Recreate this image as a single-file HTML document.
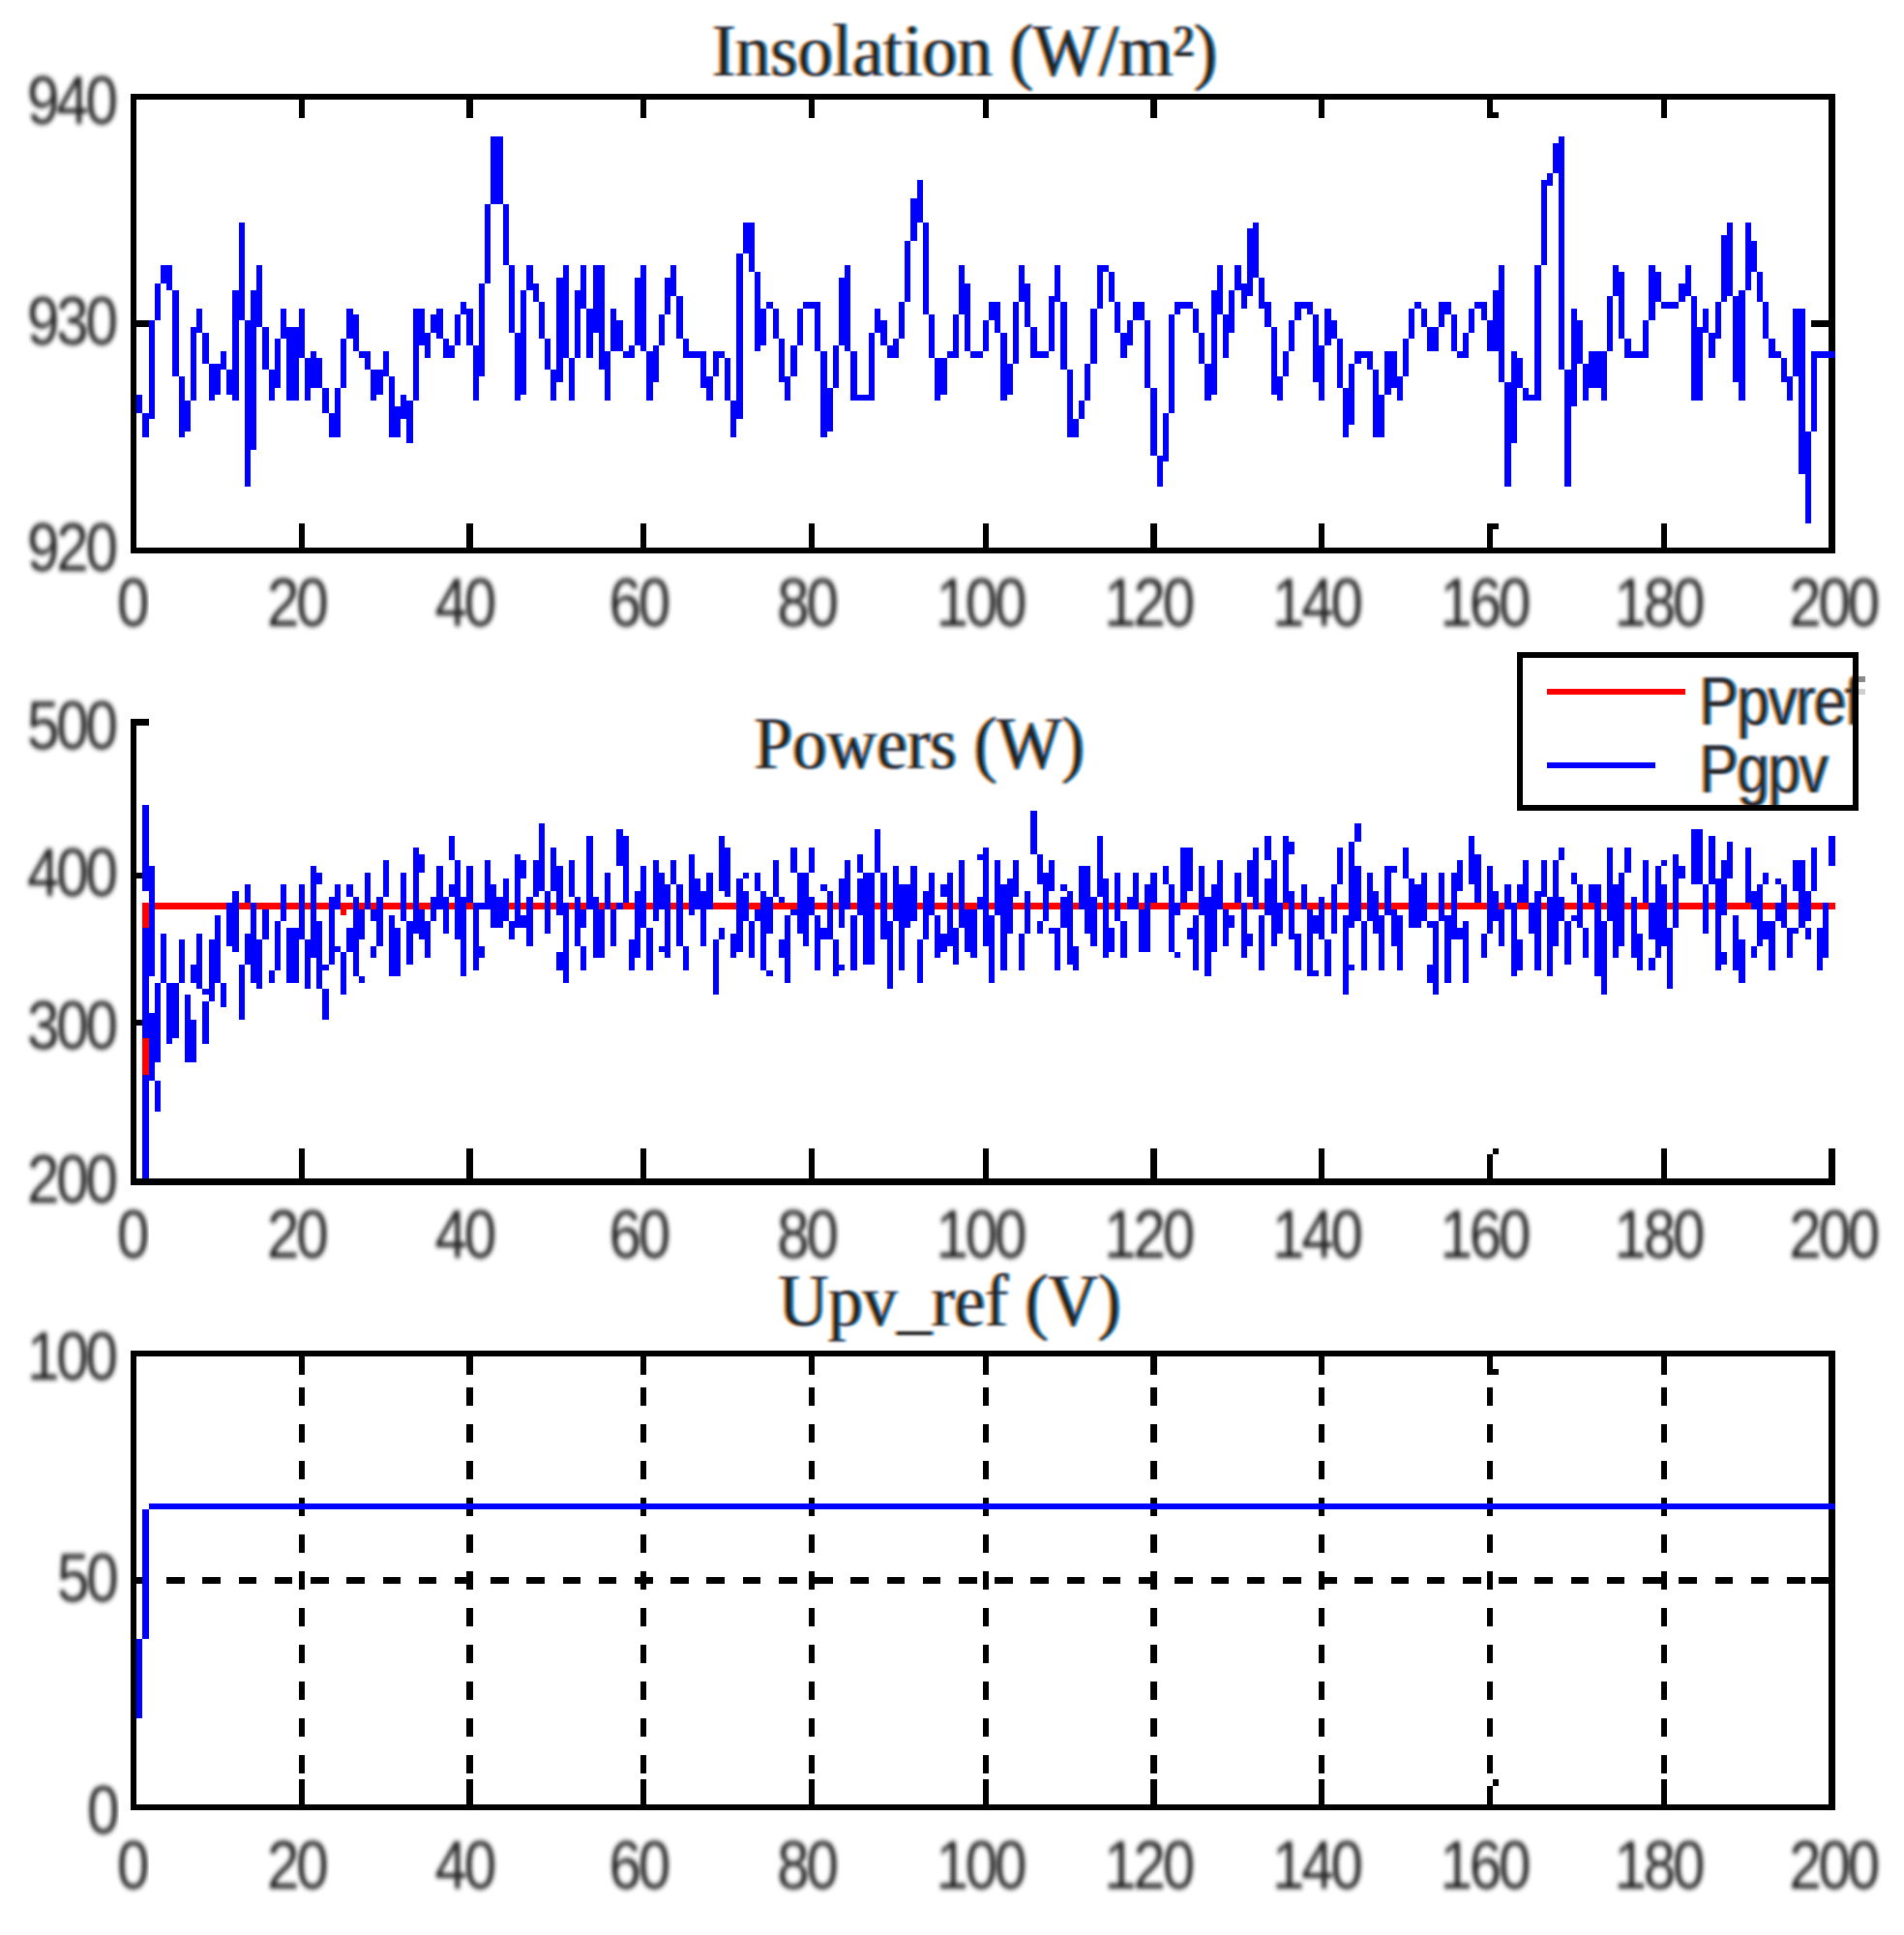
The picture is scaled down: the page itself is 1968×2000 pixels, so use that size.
<!DOCTYPE html>
<html><head><meta charset="utf-8"><title>Insolation, Powers, Upv_ref</title>
<style>html,body{margin:0;padding:0;background:#fff}svg{display:block}.t{font-family:"Liberation Sans",sans-serif;font-size:70.8px;letter-spacing:-3.8px;fill:#222}.h{font-family:"Liberation Serif",serif;font-size:77px;fill:#262626}.l{font-family:"Liberation Sans",sans-serif;font-size:70.8px;letter-spacing:-1.6px;fill:#2a2a2a}</style></head><body>
<svg width="1968" height="2000" viewBox="0 0 1968 2000" shape-rendering="crispEdges">
<rect width="1968" height="2000" fill="#fff"/>
<path fill="#ff0000" d="M147 933h1750v7h-1750zM147 933h7v178h-7zM352 940h6v6h-6z"/>
<path fill="#000" d="M135 97h1762v6h-1762zM135 566h1762v6h-1762zM135 97h6v475h-6zM1890 97h7v475h-7zM309 103h6v19h-6zM309 541h6v25h-6zM482 103h7v19h-7zM482 541h7v25h-7zM662 103h6v19h-6zM662 541h6v25h-6zM836 103h6v19h-6zM836 541h6v25h-6zM1016 103h6v19h-6zM1016 541h6v25h-6zM1189 103h7v19h-7zM1189 541h7v25h-7zM1363 103h6v19h-6zM1363 541h6v25h-6zM1537 103h6v19h-6zM1537 541h6v25h-6zM1717 103h6v19h-6zM1717 541h6v25h-6zM1543 116h6v6h-6zM1543 541h6v6h-6zM141 331h13v7h-13zM1872 331h18v7h-18zM135 743h6v482h-6zM135 1218h1762v7h-1762zM141 743h13v7h-13zM141 902h13v6h-13zM141 1054h13v6h-13zM309 1187h6v31h-6zM482 1187h7v31h-7zM662 1187h6v31h-6zM836 1187h6v31h-6zM1016 1187h6v31h-6zM1189 1187h7v31h-7zM1363 1187h6v31h-6zM1537 1193h6v25h-6zM1717 1187h6v31h-6zM1890 1187h7v31h-7zM1543 1187h6v6h-6zM135 1396h1762v6h-1762zM135 1865h1762v6h-1762zM135 1396h6v475h-6zM1890 1396h7v475h-7zM309 1402h6v19h-6zM309 1839h6v26h-6zM309 1434h6v19h-6zM309 1472h6v19h-6zM309 1510h6v19h-6zM309 1548h6v19h-6zM309 1586h6v19h-6zM309 1624h6v19h-6zM309 1662h6v19h-6zM309 1700h6v19h-6zM309 1738h6v19h-6zM309 1776h6v19h-6zM309 1814h6v19h-6zM309 1852h6v13h-6zM482 1402h7v19h-7zM482 1839h7v26h-7zM482 1434h7v19h-7zM482 1472h7v19h-7zM482 1510h7v19h-7zM482 1548h7v19h-7zM482 1586h7v19h-7zM482 1624h7v19h-7zM482 1662h7v19h-7zM482 1700h7v19h-7zM482 1738h7v19h-7zM482 1776h7v19h-7zM482 1814h7v19h-7zM482 1852h7v13h-7zM662 1402h6v19h-6zM662 1839h6v26h-6zM662 1434h6v19h-6zM662 1472h6v19h-6zM662 1510h6v19h-6zM662 1548h6v19h-6zM662 1586h6v19h-6zM662 1624h6v19h-6zM662 1662h6v19h-6zM662 1700h6v19h-6zM662 1738h6v19h-6zM662 1776h6v19h-6zM662 1814h6v19h-6zM662 1852h6v13h-6zM836 1402h6v19h-6zM836 1839h6v26h-6zM836 1434h6v19h-6zM836 1472h6v19h-6zM836 1510h6v19h-6zM836 1548h6v19h-6zM836 1586h6v19h-6zM836 1624h6v19h-6zM836 1662h6v19h-6zM836 1700h6v19h-6zM836 1738h6v19h-6zM836 1776h6v19h-6zM836 1814h6v19h-6zM836 1852h6v13h-6zM1016 1402h6v19h-6zM1016 1839h6v26h-6zM1016 1434h6v19h-6zM1016 1472h6v19h-6zM1016 1510h6v19h-6zM1016 1548h6v19h-6zM1016 1586h6v19h-6zM1016 1624h6v19h-6zM1016 1662h6v19h-6zM1016 1700h6v19h-6zM1016 1738h6v19h-6zM1016 1776h6v19h-6zM1016 1814h6v19h-6zM1016 1852h6v13h-6zM1189 1402h7v19h-7zM1189 1839h7v26h-7zM1189 1434h7v19h-7zM1189 1472h7v19h-7zM1189 1510h7v19h-7zM1189 1548h7v19h-7zM1189 1586h7v19h-7zM1189 1624h7v19h-7zM1189 1662h7v19h-7zM1189 1700h7v19h-7zM1189 1738h7v19h-7zM1189 1776h7v19h-7zM1189 1814h7v19h-7zM1189 1852h7v13h-7zM1363 1402h6v19h-6zM1363 1839h6v26h-6zM1363 1434h6v19h-6zM1363 1472h6v19h-6zM1363 1510h6v19h-6zM1363 1548h6v19h-6zM1363 1586h6v19h-6zM1363 1624h6v19h-6zM1363 1662h6v19h-6zM1363 1700h6v19h-6zM1363 1738h6v19h-6zM1363 1776h6v19h-6zM1363 1814h6v19h-6zM1363 1852h6v13h-6zM1537 1402h6v19h-6zM1537 1846h6v19h-6zM1537 1434h6v19h-6zM1537 1472h6v19h-6zM1537 1510h6v19h-6zM1537 1548h6v19h-6zM1537 1586h6v19h-6zM1537 1624h6v19h-6zM1537 1662h6v19h-6zM1537 1700h6v19h-6zM1537 1738h6v19h-6zM1537 1776h6v19h-6zM1537 1814h6v19h-6zM1537 1852h6v13h-6zM1717 1402h6v19h-6zM1717 1839h6v26h-6zM1717 1434h6v19h-6zM1717 1472h6v19h-6zM1717 1510h6v19h-6zM1717 1548h6v19h-6zM1717 1586h6v19h-6zM1717 1624h6v19h-6zM1717 1662h6v19h-6zM1717 1700h6v19h-6zM1717 1738h6v19h-6zM1717 1776h6v19h-6zM1717 1814h6v19h-6zM1717 1852h6v13h-6zM1543 1415h6v6h-6zM1543 1839h6v7h-6zM141 1630h13v7h-13zM1872 1630h18v7h-18zM172 1630h19v7h-19zM209 1630h19v7h-19zM247 1630h18v7h-18zM284 1630h18v7h-18zM321 1630h19v7h-19zM358 1630h19v7h-19zM396 1630h18v7h-18zM433 1630h18v7h-18zM470 1630h19v7h-19zM507 1630h19v7h-19zM544 1630h19v7h-19zM582 1630h18v7h-18zM619 1630h18v7h-18zM656 1630h19v7h-19zM693 1630h19v7h-19zM730 1630h19v7h-19zM768 1630h18v7h-18zM805 1630h19v7h-19zM842 1630h19v7h-19zM879 1630h19v7h-19zM917 1630h18v7h-18zM954 1630h18v7h-18zM991 1630h19v7h-19zM1028 1630h19v7h-19zM1065 1630h19v7h-19zM1103 1630h18v7h-18zM1140 1630h18v7h-18zM1177 1630h19v7h-19zM1214 1630h19v7h-19zM1252 1630h18v7h-18zM1289 1630h18v7h-18zM1326 1630h19v7h-19zM1363 1630h19v7h-19zM1400 1630h19v7h-19zM1438 1630h18v7h-18zM1475 1630h18v7h-18zM1512 1630h19v7h-19zM1549 1630h19v7h-19zM1586 1630h19v7h-19zM1624 1630h18v7h-18zM1661 1630h18v7h-18zM1698 1630h19v7h-19zM1735 1630h19v7h-19zM1773 1630h18v7h-18zM1810 1630h18v7h-18zM1847 1630h19v7h-19zM1884 1630h6v7h-6z"/>
<path fill="#0000ff" d="M141 408h6v19h-6zM147 427h7v25h-7zM154 331h6v102h-6zM160 293h6v38h-6zM166 274h6v19h-6zM172 274h6v26h-6zM178 300h7v89h-7zM185 389h6v63h-6zM191 414h6v32h-6zM197 338h6v76h-6zM203 319h6v25h-6zM209 344h7v32h-7zM216 376h6v38h-6zM222 376h6v32h-6zM228 363h6v19h-6zM234 382h6v26h-6zM240 300h7v114h-7zM247 230h6v101h-6zM253 331h6v172h-6zM259 300h6v165h-6zM265 274h6v64h-6zM271 338h7v44h-7zM278 382h6v32h-6zM284 350h6v51h-6zM290 319h6v31h-6zM296 338h6v76h-6zM302 338h7v76h-7zM309 319h6v51h-6zM315 370h6v44h-6zM321 363h6v38h-6zM327 370h6v31h-6zM333 401h7v26h-7zM340 427h6v25h-6zM346 401h6v51h-6zM352 350h6v51h-6zM358 319h7v31h-7zM365 325h6v38h-6zM371 363h6v7h-6zM377 363h6v19h-6zM383 382h6v32h-6zM389 382h7v26h-7zM396 363h6v26h-6zM402 389h6v63h-6zM408 420h6v32h-6zM414 408h6v25h-6zM420 414h7v44h-7zM427 319h6v95h-6zM433 319h6v38h-6zM439 344h6v26h-6zM445 325h6v19h-6zM451 319h7v31h-7zM458 350h6v20h-6zM464 357h6v13h-6zM470 325h6v32h-6zM476 312h6v13h-6zM482 319h7v38h-7zM489 357h6v57h-6zM495 293h6v96h-6zM501 211h6v82h-6zM507 141h6v70h-6zM513 141h7v70h-7zM520 211h6v63h-6zM526 274h6v70h-6zM532 344h6v70h-6zM538 300h6v108h-6zM544 274h7v26h-7zM551 293h6v19h-6zM557 312h6v38h-6zM563 350h6v32h-6zM569 382h6v32h-6zM575 287h7v108h-7zM582 274h6v96h-6zM588 370h6v44h-6zM594 300h6v70h-6zM600 274h6v45h-6zM606 319h7v51h-7zM613 274h6v70h-6zM619 274h6v108h-6zM625 363h6v51h-6zM631 319h6v44h-6zM637 331h7v32h-7zM644 363h6v7h-6zM650 357h6v13h-6zM656 287h6v70h-6zM662 274h6v89h-6zM668 363h7v51h-7zM675 357h6v38h-6zM681 325h6v32h-6zM687 287h6v38h-6zM693 274h6v32h-6zM699 306h7v44h-7zM706 350h6v20h-6zM712 363h6v7h-6zM718 363h6v7h-6zM724 363h6v38h-6zM730 389h7v25h-7zM737 363h6v26h-6zM743 363h6v7h-6zM749 370h6v44h-6zM755 414h6v38h-6zM761 262h7v171h-7zM768 230h6v32h-6zM774 230h6v51h-6zM780 281h6v82h-6zM786 319h6v38h-6zM792 312h7v7h-7zM799 319h6v31h-6zM805 350h6v45h-6zM811 389h6v25h-6zM817 357h7v32h-7zM824 319h6v38h-6zM830 312h6v7h-6zM836 312h6v7h-6zM842 312h6v51h-6zM848 363h7v89h-7zM855 401h6v45h-6zM861 357h6v44h-6zM867 287h6v70h-6zM873 274h6v89h-6zM879 363h7v51h-7zM886 408h6v6h-6zM892 408h6v6h-6zM898 344h6v70h-6zM904 319h6v25h-6zM910 331h7v26h-7zM917 357h6v13h-6zM923 350h6v20h-6zM929 312h6v38h-6zM935 249h6v63h-6zM941 205h7v44h-7zM948 186h6v44h-6zM954 230h6v95h-6zM960 325h6v45h-6zM966 370h6v44h-6zM972 370h7v38h-7zM979 363h6v7h-6zM985 325h6v45h-6zM991 274h6v51h-6zM997 293h6v70h-6zM1003 363h7v7h-7zM1010 363h6v7h-6zM1016 331h6v32h-6zM1022 312h6v19h-6zM1028 312h6v32h-6zM1034 344h7v70h-7zM1041 376h6v32h-6zM1047 312h6v64h-6zM1053 274h6v38h-6zM1059 293h6v45h-6zM1065 338h7v32h-7zM1072 363h6v7h-6zM1078 363h6v7h-6zM1084 306h6v57h-6zM1090 274h6v38h-6zM1096 312h7v70h-7zM1103 382h6v70h-6zM1109 433h6v19h-6zM1115 414h6v19h-6zM1121 376h6v38h-6zM1127 319h7v57h-7zM1134 274h6v45h-6zM1140 274h6v7h-6zM1146 281h6v31h-6zM1152 312h6v32h-6zM1158 344h7v26h-7zM1165 331h6v26h-6zM1171 312h6v19h-6zM1177 312h6v19h-6zM1183 331h6v70h-6zM1189 401h7v70h-7zM1196 471h6v32h-6zM1202 427h6v50h-6zM1208 325h6v102h-6zM1214 312h6v13h-6zM1220 312h7v7h-7zM1227 312h6v7h-6zM1233 319h6v25h-6zM1239 344h6v32h-6zM1245 376h7v38h-7zM1252 300h6v108h-6zM1258 274h6v51h-6zM1264 325h6v45h-6zM1270 300h6v44h-6zM1276 274h7v26h-7zM1283 293h6v26h-6zM1289 236h6v70h-6zM1295 230h6v57h-6zM1301 287h6v32h-6zM1307 312h7v26h-7zM1314 338h6v70h-6zM1320 389h6v25h-6zM1326 363h6v26h-6zM1332 331h6v32h-6zM1338 312h7v19h-7zM1345 312h6v7h-6zM1351 312h6v13h-6zM1357 325h6v70h-6zM1363 357h6v57h-6zM1369 319h7v38h-7zM1376 331h6v19h-6zM1382 350h6v51h-6zM1388 401h6v51h-6zM1394 376h6v63h-6zM1400 363h7v13h-7zM1407 363h6v7h-6zM1413 363h6v19h-6zM1419 382h6v70h-6zM1425 408h6v44h-6zM1431 363h7v45h-7zM1438 363h6v38h-6zM1444 389h6v25h-6zM1450 350h6v39h-6zM1456 319h6v31h-6zM1462 312h7v7h-7zM1469 319h6v19h-6zM1475 338h6v25h-6zM1481 338h6v25h-6zM1487 312h6v26h-6zM1493 312h7v13h-7zM1500 325h6v38h-6zM1506 363h6v7h-6zM1512 344h6v26h-6zM1518 319h6v25h-6zM1524 312h7v7h-7zM1531 312h6v19h-6zM1537 331h6v32h-6zM1543 300h6v63h-6zM1549 274h6v121h-6zM1555 395h7v108h-7zM1562 363h6v95h-6zM1568 370h6v31h-6zM1574 401h6v13h-6zM1580 408h6v6h-6zM1586 274h7v140h-7zM1593 186h6v88h-6zM1599 179h6v13h-6zM1605 148h6v31h-6zM1611 141h6v241h-6zM1617 382h7v121h-7zM1624 319h6v101h-6zM1630 331h6v45h-6zM1636 376h6v38h-6zM1642 363h6v38h-6zM1648 363h7v38h-7zM1655 363h6v51h-6zM1661 306h6v57h-6zM1667 274h6v32h-6zM1673 281h6v69h-6zM1679 350h7v20h-7zM1686 363h6v7h-6zM1692 363h6v7h-6zM1698 331h6v39h-6zM1704 274h7v57h-7zM1711 281h6v31h-6zM1717 312h6v7h-6zM1723 312h6v7h-6zM1729 312h6v7h-6zM1735 293h7v19h-7zM1742 274h6v32h-6zM1748 306h6v108h-6zM1754 338h6v76h-6zM1760 319h6v25h-6zM1766 344h7v26h-7zM1773 312h6v38h-6zM1779 243h6v69h-6zM1785 230h6v76h-6zM1791 306h6v89h-6zM1797 300h7v114h-7zM1804 230h6v70h-6zM1810 249h6v32h-6zM1816 281h6v31h-6zM1822 312h6v38h-6zM1828 350h7v20h-7zM1835 363h6v7h-6zM1841 370h6v25h-6zM1847 389h6v25h-6zM1853 319h6v70h-6zM1859 319h7v171h-7zM1866 446h6v95h-6zM1872 363h6v83h-6zM1878 363h6v7h-6zM1884 363h6v7h-6zM1890 363h7v7h-7zM147 832h7v89h-7zM147 959h7v114h-7zM147 1111h7v107h-7zM154 895h6v114h-6zM154 1047h6v70h-6zM160 1016h6v82h-6zM160 1117h6v32h-6zM166 965h6v51h-6zM172 1016h6v63h-6zM178 1016h7v57h-7zM185 971h6v45h-6zM191 1028h6v70h-6zM197 997h6v19h-6zM197 1054h6v44h-6zM203 965h6v57h-6zM209 1022h7v6h-7zM209 1035h7v44h-7zM216 971h6v64h-6zM222 946h6v70h-6zM228 1016h6v25h-6zM234 933h6v45h-6zM240 921h7v63h-7zM247 997h6v57h-6zM253 914h6v19h-6zM253 965h6v32h-6zM259 933h6v83h-6zM265 971h6v51h-6zM271 940h7v31h-7zM278 1003h6v13h-6zM284 952h6v51h-6zM290 914h6v38h-6zM296 959h6v57h-6zM302 959h7v57h-7zM309 914h6v57h-6zM315 971h6v51h-6zM321 895h6v95h-6zM327 902h6v12h-6zM327 952h6v70h-6zM333 997h7v6h-7zM333 1022h7v32h-7zM340 927h6v70h-6zM346 914h6v26h-6zM346 978h6v6h-6zM352 984h6v44h-6zM358 914h7v13h-7zM358 959h7v25h-7zM365 927h6v82h-6zM371 940h6v31h-6zM371 1009h6v7h-6zM377 902h6v38h-6zM383 940h6v12h-6zM383 978h6v12h-6zM389 927h7v51h-7zM396 889h6v38h-6zM402 946h6v63h-6zM408 959h6v50h-6zM414 902h6v50h-6zM420 952h7v45h-7zM427 876h6v89h-6zM433 883h6v19h-6zM433 940h6v31h-6zM439 952h6v38h-6zM445 927h6v25h-6zM451 895h7v45h-7zM458 927h6v38h-6zM464 864h6v25h-6zM464 914h6v13h-6zM470 889h6v82h-6zM476 927h6v82h-6zM482 895h7v38h-7zM489 933h6v70h-6zM495 933h6v7h-6zM495 978h6v12h-6zM501 889h6v51h-6zM507 914h6v45h-6zM513 927h7v32h-7zM520 908h6v44h-6zM526 952h6v19h-6zM532 883h6v76h-6zM538 889h6v19h-6zM538 946h6v13h-6zM544 927h7v51h-7zM551 889h6v38h-6zM557 851h6v70h-6zM563 921h6v44h-6zM569 876h6v45h-6zM575 895h7v51h-7zM575 984h7v19h-7zM582 933h6v83h-6zM588 889h6v38h-6zM594 927h6v51h-6zM600 940h6v19h-6zM600 978h6v25h-6zM606 864h7v76h-7zM613 927h6v63h-6zM619 940h6v50h-6zM625 902h6v38h-6zM631 940h6v38h-6zM637 857h7v38h-7zM637 933h7v7h-7zM644 864h6v69h-6zM650 971h6v32h-6zM656 921h6v69h-6zM662 895h6v64h-6zM668 959h7v44h-7zM675 889h6v63h-6zM681 902h6v38h-6zM681 978h6v6h-6zM687 914h6v76h-6zM693 889h6v25h-6zM699 914h7v64h-7zM706 978h6v25h-6zM712 883h6v63h-6zM718 908h6v32h-6zM724 921h6v57h-6zM730 902h7v38h-7zM737 971h6v57h-6zM743 864h6v57h-6zM743 959h6v12h-6zM749 876h6v51h-6zM755 965h6v25h-6zM761 908h7v76h-7zM768 902h6v6h-6zM768 921h6v31h-6zM774 952h6v38h-6zM780 902h6v19h-6zM780 940h6v12h-6zM786 921h6v82h-6zM792 927h7v38h-7zM792 1003h7v6h-7zM799 889h6v38h-6zM805 927h6v6h-6zM805 971h6v19h-6zM811 946h6v70h-6zM817 876h7v26h-7zM817 940h7v6h-7zM824 902h6v63h-6zM830 902h6v76h-6zM836 876h6v26h-6zM836 927h6v19h-6zM842 946h6v57h-6zM848 914h7v7h-7zM848 959h7v12h-7zM855 921h6v50h-6zM861 971h6v38h-6zM867 908h6v51h-6zM867 997h6v6h-6zM873 889h6v51h-6zM879 946h7v57h-7zM886 883h6v19h-6zM886 908h6v38h-6zM892 902h6v95h-6zM898 902h6v95h-6zM904 857h6v45h-6zM910 902h7v69h-7zM917 952h6v70h-6zM923 895h6v57h-6zM929 914h6v89h-6zM935 914h6v45h-6zM941 895h7v57h-7zM948 971h6v45h-6zM954 921h6v50h-6zM960 902h6v44h-6zM966 946h6v44h-6zM972 914h7v13h-7zM972 965h7v19h-7zM979 902h6v76h-6zM985 959h6v38h-6zM991 889h6v70h-6zM997 940h6v44h-6zM1003 940h7v50h-7zM1010 883h6v6h-6zM1010 927h6v13h-6zM1016 876h6v102h-6zM1022 946h6v70h-6zM1028 889h6v57h-6zM1034 914h7v89h-7zM1041 908h6v57h-6zM1047 889h6v38h-6zM1053 965h6v38h-6zM1059 921h6v44h-6zM1065 838h7v45h-7zM1072 883h6v31h-6zM1072 952h6v13h-6zM1078 902h6v50h-6zM1084 889h6v32h-6zM1084 959h6v6h-6zM1090 959h6v44h-6zM1096 914h7v7h-7zM1096 927h7v32h-7zM1103 921h6v76h-6zM1109 978h6v25h-6zM1115 895h6v45h-6zM1121 895h6v70h-6zM1127 927h7v51h-7zM1134 864h6v63h-6zM1140 908h6v82h-6zM1146 959h6v25h-6zM1152 902h6v50h-6zM1158 952h7v38h-7zM1165 927h6v13h-6zM1171 902h6v38h-6zM1177 940h6v44h-6zM1183 914h6v70h-6zM1189 902h7v31h-7zM1202 895h6v19h-6zM1208 914h6v70h-6zM1214 933h6v13h-6zM1214 984h6v6h-6zM1220 876h7v57h-7zM1227 876h6v45h-6zM1227 959h6v12h-6zM1233 946h6v57h-6zM1239 895h6v51h-6zM1245 927h7v82h-7zM1252 914h6v70h-6zM1258 889h6v51h-6zM1264 940h6v38h-6zM1270 946h6v13h-6zM1276 902h7v31h-7zM1283 933h6v57h-6zM1289 889h6v38h-6zM1289 965h6v13h-6zM1295 876h6v64h-6zM1301 946h6v57h-6zM1307 864h7v25h-7zM1307 908h7v38h-7zM1314 889h6v89h-6zM1320 933h6v32h-6zM1326 864h6v69h-6zM1332 870h6v13h-6zM1332 921h6v50h-6zM1338 965h7v38h-7zM1345 914h6v26h-6zM1351 940h6v69h-6zM1357 946h6v19h-6zM1357 1003h6v6h-6zM1363 927h6v44h-6zM1369 971h7v38h-7zM1376 914h6v51h-6zM1382 876h6v38h-6zM1388 946h6v82h-6zM1394 870h6v89h-6zM1394 997h6v6h-6zM1400 851h7v19h-7zM1400 895h7v57h-7zM1407 952h6v51h-6zM1413 902h6v50h-6zM1419 921h6v44h-6zM1425 946h6v57h-6zM1431 895h7v51h-7zM1438 895h6v7h-6zM1438 940h6v38h-6zM1444 946h6v57h-6zM1450 876h6v32h-6zM1456 908h6v51h-6zM1462 914h7v45h-7zM1469 902h6v50h-6zM1475 952h6v7h-6zM1475 997h6v19h-6zM1481 952h6v76h-6zM1487 902h6v50h-6zM1493 946h7v70h-7zM1500 902h6v69h-6zM1506 889h6v32h-6zM1506 959h6v12h-6zM1512 952h6v64h-6zM1518 864h6v50h-6zM1524 883h7v50h-7zM1531 965h6v25h-6zM1537 895h6v70h-6zM1543 921h6v31h-6zM1549 940h6v38h-6zM1555 914h7v26h-7zM1562 933h6v76h-6zM1568 914h6v19h-6zM1568 971h6v32h-6zM1574 889h6v44h-6zM1580 933h6v32h-6zM1586 921h7v82h-7zM1593 889h6v38h-6zM1599 927h6v82h-6zM1605 889h6v89h-6zM1611 876h6v13h-6zM1611 927h6v25h-6zM1617 952h7v45h-7zM1624 902h6v12h-6zM1624 946h6v6h-6zM1630 914h6v45h-6zM1636 959h6v31h-6zM1642 914h6v19h-6zM1648 914h7v95h-7zM1655 952h6v76h-6zM1661 876h6v76h-6zM1667 914h6v76h-6zM1673 902h6v76h-6zM1679 876h7v26h-7zM1686 927h6v63h-6zM1692 965h6v38h-6zM1698 889h6v44h-6zM1704 933h7v38h-7zM1704 990h7v13h-7zM1711 895h6v95h-6zM1717 889h6v6h-6zM1717 914h6v64h-6zM1723 959h6v63h-6zM1729 883h6v76h-6zM1735 895h7v13h-7zM1748 857h6v57h-6zM1754 857h6v57h-6zM1760 914h6v51h-6zM1766 864h7v50h-7zM1773 908h6v95h-6zM1779 889h6v57h-6zM1779 984h6v13h-6zM1785 870h6v38h-6zM1791 946h6v57h-6zM1797 971h7v45h-7zM1804 876h6v57h-6zM1810 921h6v19h-6zM1810 978h6v12h-6zM1816 914h6v64h-6zM1822 902h6v12h-6zM1822 952h6v19h-6zM1828 952h7v51h-7zM1835 908h6v6h-6zM1835 933h6v19h-6zM1841 914h6v45h-6zM1847 959h6v31h-6zM1853 889h6v32h-6zM1853 959h6v6h-6zM1859 889h7v70h-7zM1866 921h6v31h-6zM1866 959h6v12h-6zM1872 876h6v45h-6zM1878 959h6v44h-6zM1884 933h6v57h-6zM1890 864h7v31h-7zM154 1554h1743v6h-1743zM147 1560h7v134h-7zM141 1694h6v82h-6z"/>
<path fill="#fff" d="M1568 674h353v164h-353z"/>
<path fill="#8a8a8a" d="M1921 699h7v6h-7z"/>
<path fill="#cfcfcf" d="M1921 712h7v6h-7z"/>
<path fill="#000" d="M1568 674h353v6h-353zM1568 832h353v6h-353zM1568 674h6v164h-6zM1915 674h6v164h-6z"/>
<path fill="#ff0000" d="M1599 712h143v6h-143z"/>
<path fill="#0000ff" d="M1599 788h112v6h-112z"/>
<defs><filter id="b" x="-5%" y="-20%" width="110%" height="140%"><feGaussianBlur stdDeviation="2.6"/></filter><filter id="b2" x="-5%" y="-20%" width="110%" height="140%"><feOffset in="SourceAlpha" dx="-2" result="l"/><feFlood flood-color="#f39a3a"/><feComposite in2="l" operator="in" result="lo"/><feOffset in="SourceAlpha" dx="2" result="r"/><feFlood flood-color="#1a9ae8"/><feComposite in2="r" operator="in" result="rb"/><feMerge result="m"><feMergeNode in="lo"/><feMergeNode in="rb"/><feMergeNode in="SourceGraphic"/></feMerge><feGaussianBlur in="m" stdDeviation="1.3"/></filter><clipPath id="lc"><rect x="1568" y="674" width="353" height="164"/></clipPath></defs>
<g shape-rendering="auto" text-rendering="geometricPrecision">
<text class="t" filter="url(#b)" transform="translate(27.9 127.8) scale(0.85 1)">940</text>
<text class="t" filter="url(#b)" transform="translate(27.9 355.8) scale(0.85 1)">930</text>
<text class="t" filter="url(#b)" transform="translate(27.9 590.2) scale(0.85 1)">920</text>
<text class="t" filter="url(#b)" transform="translate(27.9 773.9) scale(0.85 1)">500</text>
<text class="t" filter="url(#b)" transform="translate(27.9 926.0) scale(0.85 1)">400</text>
<text class="t" filter="url(#b)" transform="translate(27.9 1084.4) scale(0.85 1)">300</text>
<text class="t" filter="url(#b)" transform="translate(27.9 1242.7) scale(0.85 1)">200</text>
<text class="t" filter="url(#b)" transform="translate(27.9 1426.4) scale(0.85 1)">100</text>
<text class="t" filter="url(#b)" transform="translate(58.9 1654.5) scale(0.85 1)">50</text>
<text class="t" filter="url(#b)" transform="translate(89.9 1895.2) scale(0.85 1)">0</text>
<text class="t" filter="url(#b)" transform="translate(120.9 647.2) scale(0.85 1)">0</text>
<text class="t" filter="url(#b)" transform="translate(276.0 647.2) scale(0.85 1)">20</text>
<text class="t" filter="url(#b)" transform="translate(449.6 647.2) scale(0.85 1)">40</text>
<text class="t" filter="url(#b)" transform="translate(629.5 647.2) scale(0.85 1)">60</text>
<text class="t" filter="url(#b)" transform="translate(803.2 647.2) scale(0.85 1)">80</text>
<text class="t" filter="url(#b)" transform="translate(967.6 647.2) scale(0.85 1)">100</text>
<text class="t" filter="url(#b)" transform="translate(1141.3 647.2) scale(0.85 1)">120</text>
<text class="t" filter="url(#b)" transform="translate(1314.9 647.2) scale(0.85 1)">140</text>
<text class="t" filter="url(#b)" transform="translate(1488.6 647.2) scale(0.85 1)">160</text>
<text class="t" filter="url(#b)" transform="translate(1668.5 647.2) scale(0.85 1)">180</text>
<text class="t" filter="url(#b)" transform="translate(1849.3 647.2) scale(0.85 1)">200</text>
<text class="t" filter="url(#b)" transform="translate(120.9 1299.8) scale(0.85 1)">0</text>
<text class="t" filter="url(#b)" transform="translate(276.0 1299.8) scale(0.85 1)">20</text>
<text class="t" filter="url(#b)" transform="translate(449.6 1299.8) scale(0.85 1)">40</text>
<text class="t" filter="url(#b)" transform="translate(629.5 1299.8) scale(0.85 1)">60</text>
<text class="t" filter="url(#b)" transform="translate(803.2 1299.8) scale(0.85 1)">80</text>
<text class="t" filter="url(#b)" transform="translate(967.6 1299.8) scale(0.85 1)">100</text>
<text class="t" filter="url(#b)" transform="translate(1141.3 1299.8) scale(0.85 1)">120</text>
<text class="t" filter="url(#b)" transform="translate(1314.9 1299.8) scale(0.85 1)">140</text>
<text class="t" filter="url(#b)" transform="translate(1488.6 1299.8) scale(0.85 1)">160</text>
<text class="t" filter="url(#b)" transform="translate(1668.5 1299.8) scale(0.85 1)">180</text>
<text class="t" filter="url(#b)" transform="translate(1849.3 1299.8) scale(0.85 1)">200</text>
<text class="t" filter="url(#b)" transform="translate(120.9 1952.3) scale(0.85 1)">0</text>
<text class="t" filter="url(#b)" transform="translate(276.0 1952.3) scale(0.85 1)">20</text>
<text class="t" filter="url(#b)" transform="translate(449.6 1952.3) scale(0.85 1)">40</text>
<text class="t" filter="url(#b)" transform="translate(629.5 1952.3) scale(0.85 1)">60</text>
<text class="t" filter="url(#b)" transform="translate(803.2 1952.3) scale(0.85 1)">80</text>
<text class="t" filter="url(#b)" transform="translate(967.6 1952.3) scale(0.85 1)">100</text>
<text class="t" filter="url(#b)" transform="translate(1141.3 1952.3) scale(0.85 1)">120</text>
<text class="t" filter="url(#b)" transform="translate(1314.9 1952.3) scale(0.85 1)">140</text>
<text class="t" filter="url(#b)" transform="translate(1488.6 1952.3) scale(0.85 1)">160</text>
<text class="t" filter="url(#b)" transform="translate(1668.5 1952.3) scale(0.85 1)">180</text>
<text class="t" filter="url(#b)" transform="translate(1849.3 1952.3) scale(0.85 1)">200</text>
<text class="h" filter="url(#b2)" x="736" y="77.8" textLength="522" lengthAdjust="spacingAndGlyphs">Insolation (W/m²)</text>
<text class="h" filter="url(#b2)" x="779.5" y="793.7" textLength="341.5" lengthAdjust="spacingAndGlyphs">Powers (W)</text>
<text class="h" filter="url(#b2)" x="804.5" y="1370" textLength="354" lengthAdjust="spacingAndGlyphs">Upv_ref (V)</text>
<g clip-path="url(#lc)"><text class="l" filter="url(#b2)" transform="translate(1756.5 749.4) scale(0.85 1)">Ppvref</text>
<text class="l" filter="url(#b2)" transform="translate(1756.5 819) scale(0.85 1)">Pgpv</text></g>
</g>
<path fill="#000" d="M1568 674h353v6h-353zM1568 832h353v6h-353zM1568 674h6v164h-6zM1915 674h6v164h-6z"/>
</svg></body></html>
